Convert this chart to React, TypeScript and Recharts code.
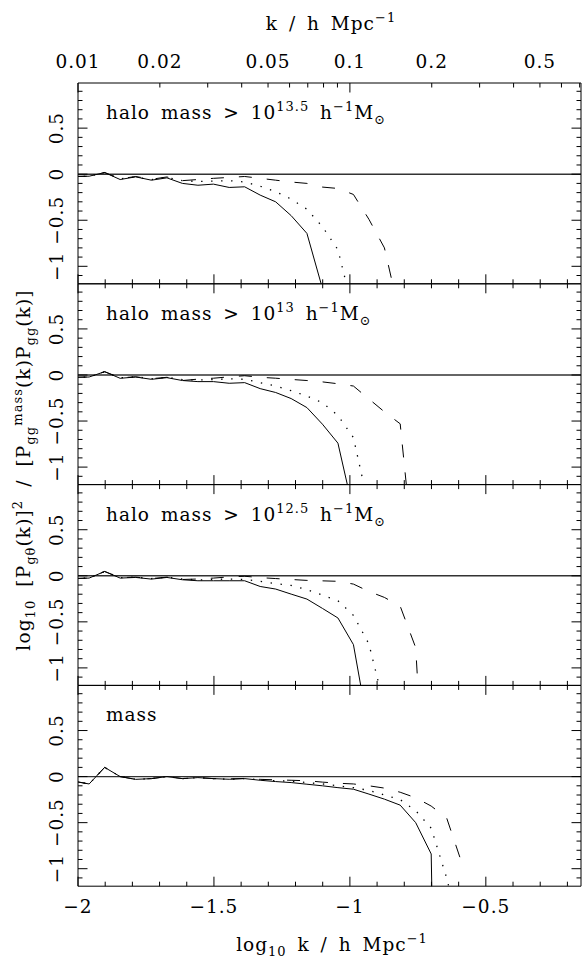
import { LineChart, Line, XAxis, YAxis, ReferenceLine } from 'recharts';

const W = 582;
const H = 966;
const FONT = '"DejaVu Serif", serif';
const FS = 18.5;
const SUB = 13;
const TEXT = { fontFamily: FONT, fontSize: FS, fill: '#000', letterSpacing: 1, wordSpacing: 4 };

// log10 k bin centres (h / Mpc)
const logK = [-2.016, -1.959, -1.902, -1.845, -1.788, -1.730, -1.673, -1.616, -1.559, -1.502, -1.444, -1.387, -1.330,
  -1.273, -1.216, -1.158, -1.101, -1.044, -0.987, -0.930, -0.873, -0.815, -0.758, -0.701, -0.644, -0.587];

// halo mass > 10^13.5
const solid135 = [-0.025, -0.022, 0.018, -0.058, -0.029, -0.065, -0.04, -0.10, -0.12, -0.108, -0.144, -0.137, -0.227,
  -0.30, -0.45, -0.643, -1.24, null, null, null, null, null, null, null, null, null];
const dotted135 = [-0.025, -0.022, 0.018, -0.05, -0.03, -0.06, -0.035, -0.07, -0.08, -0.075, -0.07, -0.085, -0.13,
  -0.19, -0.27, -0.38, -0.57, -0.82, -1.5, null, null, null, null, null, null, null];
const dashed135 = [-0.025, -0.022, 0.018, -0.05, -0.025, -0.055, -0.03, -0.07, -0.058, -0.045, -0.035, -0.025, -0.045,
  -0.065, -0.085, -0.10, -0.14, -0.155, -0.22, -0.49, -0.80, -1.55, null, null, null, null];

// halo mass > 10^13
const solid13 = [-0.025, -0.022, 0.036, -0.036, -0.022, -0.047, -0.029, -0.06, -0.072, -0.072, -0.09, -0.083, -0.148,
  -0.19, -0.256, -0.354, -0.534, -0.74, -1.48, null, null, null, null, null, null, null];
const dotted13 = [-0.025, -0.022, 0.036, -0.03, -0.02, -0.04, -0.025, -0.05, -0.055, -0.05, -0.042, -0.047, -0.083,
  -0.12, -0.17, -0.23, -0.30, -0.44, -0.68, -1.44, null, null, null, null, null, null];
const dashed13 = [-0.025, -0.022, 0.036, -0.03, -0.02, -0.04, -0.025, -0.06, -0.045, -0.035, -0.02, -0.008, -0.025,
  -0.035, -0.048, -0.06, -0.075, -0.095, -0.12, -0.26, -0.40, -0.53, -2.2, null, null, null];

// halo mass > 10^12.5
const solid125 = [-0.03, -0.025, 0.047, -0.025, -0.018, -0.036, -0.018, -0.043, -0.054, -0.054, -0.054, -0.054, -0.116,
  -0.144, -0.199, -0.253, -0.354, -0.458, -0.747, -1.69, null, null, null, null, null, null];
const dotted125 = [-0.03, -0.025, 0.047, -0.02, -0.015, -0.03, -0.015, -0.035, -0.045, -0.04, -0.035, -0.04, -0.06,
  -0.085, -0.105, -0.15, -0.21, -0.27, -0.43, -0.74, -1.42, null, null, null, null, null];
const dashed125 = [-0.03, -0.025, 0.047, -0.02, -0.015, -0.03, -0.015, -0.04, -0.035, -0.025, -0.012, -0.005, -0.02,
  -0.03, -0.04, -0.05, -0.055, -0.06, -0.09, -0.17, -0.235, -0.33, -0.78, -3.7, null, null];

// mass
const solidM = [-0.05, -0.08, 0.10, 0.0, -0.03, -0.022, 0.0, -0.022, -0.011, -0.022, -0.029, -0.022, -0.04, -0.054,
  -0.065, -0.083, -0.10, -0.12, -0.137, -0.19, -0.245, -0.31, -0.50, -0.84, -10, null];
const dottedM = [-0.05, -0.08, 0.10, 0.0, -0.03, -0.022, 0.0, -0.022, -0.011, -0.022, -0.029, -0.022, -0.035, -0.045,
  -0.05, -0.065, -0.08, -0.10, -0.12, -0.15, -0.20, -0.25, -0.37, -0.56, -1.10, -1.8];
const dashedM = [-0.05, -0.08, 0.10, 0.0, -0.03, -0.022, 0.0, -0.022, -0.011, -0.022, -0.025, -0.02, -0.03, -0.035,
  -0.04, -0.045, -0.06, -0.072, -0.08, -0.10, -0.125, -0.17, -0.23, -0.32, -0.45, -0.95];

const xTicks = [-2, -1.9, -1.8, -1.7, -1.6, -1.5, -1.4, -1.3, -1.2, -1.1, -1, -0.9, -0.8, -0.7, -0.6, -0.5, -0.4, -0.3, -0.2];
const xLabels = [-2, -1.5, -1, -0.5];
const kTicks = [0.01, 0.02, 0.03, 0.04, 0.05, 0.06, 0.07, 0.08, 0.09, 0.1, 0.2, 0.3, 0.4, 0.5, 0.6, 0.7];
const kMajor = [0.01, 0.1];
const kLabels = [0.01, 0.02, 0.05, 0.1, 0.2, 0.5];
const yTicks = [-1.1, -1, -0.9, -0.8, -0.7, -0.6, -0.5, -0.4, -0.3, -0.2, -0.1, 0, 0.1, 0.2, 0.3, 0.4, 0.5, 0.6, 0.7, 0.8, 0.9];
const yLabels = [-1, -0.5, 0, 0.5];

const panels = [
  { exp: '13.5', solid: solid135, dotted: dotted135, dashed: dashed135 },
  { exp: '13', solid: solid13, dotted: dotted13, dashed: dashed13 },
  { exp: '12.5', solid: solid125, dotted: dotted125, dashed: dashed125 },
  { exp: null, solid: solidM, dotted: dottedM, dashed: dashedM },
];

const LEFT = 78;
const RIGHT = 581;
const TOP = 83;
const PANEL_H = 200.8;
const MINOR = 4.5;
const MAJOR = 9.5;
const AX = 1; // size reserved for each axis strip

const near = (a: number, b: number, tol = 1e-6) => Math.abs(a - b) < tol;
const fmt = (v: number) => (v < 0 ? '\u2212' + String(-v) : String(v));

function BottomTick({ x, y, payload, labelled }: any) {
  const v = payload.value;
  const major = xLabels.some((l) => near(l, v));
  return (
    <g>
      <line x1={x} x2={x} y1={y} y2={y - (major ? MAJOR : MINOR)} stroke="#000" />
      {labelled && major && (
        <text x={x} y={y + 27} textAnchor="middle" style={TEXT}>
          {fmt(v)}
        </text>
      )}
    </g>
  );
}

function TopTick({ x, y, payload }: any) {
  const v = payload.value;
  const major = xLabels.some((l) => near(l, v));
  return <line x1={x} x2={x} y1={y} y2={y + (major ? MAJOR : MINOR)} stroke="#000" />;
}

function KTick({ x, y, payload }: any) {
  const k = Math.pow(10, payload.value);
  const major = kMajor.some((m) => near(m, k, 1e-7));
  const lab = kLabels.find((m) => near(m, k, 1e-7));
  return (
    <g>
      <line x1={x} x2={x} y1={y} y2={y + (major ? MAJOR : MINOR)} stroke="#000" />
      {lab !== undefined && (
        <text x={x} y={y - 15} textAnchor="middle" style={TEXT}>
          {String(lab)}
        </text>
      )}
    </g>
  );
}

function LeftTick({ x, y, payload }: any) {
  const v = payload.value;
  const major = yLabels.some((l) => near(l, v));
  const bx = 63;
  return (
    <g>
      <line x1={x} x2={x + (major ? MAJOR : MINOR)} y1={y} y2={y} stroke="#000" />
      {major && (
        <text x={bx} y={y} transform={`rotate(-90 ${bx} ${y})`} textAnchor="middle" style={TEXT}>
          {fmt(v)}
        </text>
      )}
    </g>
  );
}

function RightTick({ x, y, payload }: any) {
  const v = payload.value;
  const major = yLabels.some((l) => near(l, v));
  return <line x1={x} x2={x - (major ? MAJOR : MINOR)} y1={y} y2={y} stroke="#000" />;
}

function PanelLabel({ top, exp }: any) {
  if (exp === null) {
    return (
      <text x={106} y={top + 36} style={TEXT}>
        mass
      </text>
    );
  }
  return (
    <text x={106} y={top + 36} style={TEXT}>
      halo mass &gt; 10
      <tspan dy={-8} fontSize={SUB}>{exp}</tspan>
      <tspan dy={8}> h</tspan>
      <tspan dy={-8} fontSize={SUB}>{'\u22121'}</tspan>
      <tspan dy={8}>M</tspan>
      <tspan dy={5} fontSize={SUB}>{'\u2299'}</tspan>
    </text>
  );
}

function KTitle() {
  return (
    <text x={331} y={30} textAnchor="middle" style={TEXT}>
      k / h Mpc
      <tspan dy={-8} fontSize={SUB}>{'\u22121'}</tspan>
    </text>
  );
}

function XTitle() {
  return (
    <text x={332} y={951} textAnchor="middle" style={TEXT}>
      log
      <tspan dy={5} fontSize={SUB}>10</tspan>
      <tspan dy={-5}> k / h Mpc</tspan>
      <tspan dy={-8} fontSize={SUB}>{'\u22121'}</tspan>
    </text>
  );
}

function YTitle() {
  return (
    <text transform="rotate(-90)" x={-470} y={30} textAnchor="middle" style={{ ...TEXT, letterSpacing: 1.1, wordSpacing: 6 }}>
      log
      <tspan dy={5} fontSize={SUB}>10</tspan>
      <tspan dy={-5}> [P</tspan>
      <tspan dy={5} fontSize={SUB}>g{'\u03b8'}</tspan>
      <tspan dy={-5}>(k)]</tspan>
      <tspan dy={-8} fontSize={SUB}>2</tspan>
      <tspan dy={8}> / [P</tspan>
      <tspan dy={5} fontSize={SUB}>gg</tspan>
      <tspan dy={-13} fontSize={SUB}>mass</tspan>
      <tspan dy={8}>(k)P</tspan>
      <tspan dy={5} fontSize={SUB}>gg</tspan>
      <tspan dy={-5}>(k)]</tspan>
    </text>
  );
}

function Panel({ index, def }: any) {
  const top = TOP + index * PANEL_H;
  const margin = {
    top: top - AX,
    bottom: H - top - PANEL_H - AX,
    left: LEFT - AX,
    right: W - RIGHT - AX,
  };
  const data = logK.map((x, i) => ({ x, solid: def.solid[i], dotted: def.dotted[i], dashed: def.dashed[i] }));
  const first = index === 0;
  const last = index === panels.length - 1;
  return (
    <div style={{ position: 'absolute', left: 0, top: 0 }}>
      <LineChart width={W} height={H} data={data} margin={margin}>
        <XAxis
          dataKey="x"
          type="number"
          domain={[-2, -0.15]}
          allowDataOverflow
          ticks={xTicks}
          interval={0}
          height={AX}
          tickSize={0}
          tickMargin={0}
          stroke="#000"
          tickLine={false}
          tick={(p: any) => <BottomTick {...p} labelled={last} />}
          label={last ? () => <XTitle /> : undefined}
        />
        <XAxis
          xAxisId="top"
          orientation="top"
          dataKey="x"
          type="number"
          domain={[-2, -0.15]}
          allowDataOverflow
          ticks={first ? kTicks.map((k) => Math.log10(k)) : xTicks}
          interval={0}
          height={AX}
          tickSize={0}
          tickMargin={0}
          stroke="#000"
          tickLine={false}
          tick={first ? (p: any) => <KTick {...p} /> : (p: any) => <TopTick {...p} />}
          label={first ? () => <KTitle /> : undefined}
        />
        <YAxis
          type="number"
          domain={[-1.19, 0.99]}
          allowDataOverflow
          ticks={yTicks}
          interval={0}
          width={AX}
          tickSize={0}
          tickMargin={0}
          stroke="#000"
          tickLine={false}
          tick={(p: any) => <LeftTick {...p} />}
          label={() => <PanelLabel top={top} exp={def.exp} />}
        />
        <YAxis
          yAxisId="right"
          orientation="right"
          type="number"
          domain={[-1.19, 0.99]}
          allowDataOverflow
          ticks={yTicks}
          interval={0}
          width={AX}
          tickSize={0}
          tickMargin={0}
          stroke="#000"
          tickLine={false}
          tick={(p: any) => <RightTick {...p} />}
          label={index === 1 ? () => <YTitle /> : undefined}
        />
        <ReferenceLine y={0} stroke="#333" strokeWidth={1.4} />
        <Line type="linear" dataKey="solid" stroke="#000" strokeWidth={1} dot={false} isAnimationActive={false} />
        <Line type="linear" dataKey="dotted" stroke="#000" strokeWidth={1.3} strokeDasharray="1.4 8.6" dot={false} isAnimationActive={false} />
        <Line type="linear" dataKey="dashed" stroke="#000" strokeWidth={1} strokeDasharray="13 15" dot={false} isAnimationActive={false} />
      </LineChart>
    </div>
  );
}

export default function App() {
  return (
    <div style={{ position: 'absolute', left: 0, top: 0, width: W, height: H, background: '#fff' }}>
      {panels.map((def, i) => (
        <Panel key={i} index={i} def={def} />
      ))}
    </div>
  );
}
